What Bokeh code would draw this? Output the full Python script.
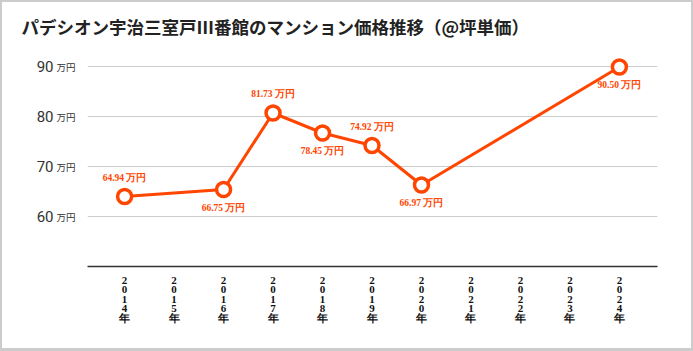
from bokeh.plotting import figure
from bokeh.models import FixedTicker, LinearAxis, Range1d, ColumnDataSource
from bokeh.core.properties import value
from bokeh.embed import file_html
from bokeh.resources import INLINE

# ---- data ----
title_text = "パデシオン宇治三室戸Ⅲ番館のマンション価格推移（@坪単価）"
years = [2014, 2016, 2017, 2018, 2019, 2020, 2024]
prices = [64.0, 65.4, 80.7, 76.7, 74.2, 66.3, 89.9]
price_labels = ["64.94 万円", "66.75 万円", "81.73 万円", "78.45 万円",
                "74.92 万円", "66.97 万円", "90.50 万円"]
label_above = [True, False, True, False, True, False, False]
axis_years = list(range(2014, 2025))
y_ticks = [60, 70, 80, 90]
unit = "万円"

ORANGE = "#ff4500"

p = figure(width=693, height=351, output_backend="svg", toolbar_location=None,
           x_range=Range1d(2013.25, 2024.77), y_range=Range1d(50, 95),
           min_border_left=85, min_border_right=38, min_border_top=39,
           min_border_bottom=87)
p.styles = {"box-sizing": "border-box",
            "border-left": "2px solid #cccccc", "border-top": "2px solid #cccccc",
            "border-right": "2px solid #cccccc", "border-bottom": "3px solid #cccccc"}
p.outline_line_color = None
p.background_fill_color = "white"
p.border_fill_color = "white"

# title
p.title.text = title_text
p.title.text_font = "Noto Sans CJK JP"
p.title.text_font_size = "17.5px"
p.title.text_font_style = "bold"
p.title.text_color = "#222222"
p.title.align = "left"
p.title.offset = -66
p.title.standoff = 5

# x axis
xa = p.xaxis[0]
xa.ticker = FixedTicker(ticks=axis_years)
xa.major_label_overrides = {y: "\n".join(list(str(y)) + ["年"]) for y in axis_years}
xa.major_label_text_font = "Liberation Serif"
xa.major_label_text_font_style = "bold"
xa.major_label_text_font_size = "11px"
xa.major_label_text_line_height = 0.8
xa.major_label_text_color = "#111111"
xa.major_label_standoff = 1
xa.major_tick_line_color = None
xa.minor_tick_line_color = None
xa.axis_line_color = "#333333"
xa.axis_line_width = 1.5

# inner y axis (unit)
ya = p.yaxis[0]
ya.ticker = FixedTicker(ticks=y_ticks)
ya.major_label_overrides = {t: unit for t in y_ticks}
ya.major_label_text_font = "Noto Sans CJK JP"
ya.major_label_text_font_size = "9.5px"
ya.major_label_text_color = "#333333"
ya.major_label_standoff = 6
ya.axis_line_color = None
ya.major_tick_line_color = None
ya.minor_tick_line_color = None

# outer y axis (numbers)
ya2 = LinearAxis(ticker=FixedTicker(ticks=y_ticks))
ya2.major_label_overrides = {t: str(t) for t in y_ticks}
ya2.major_label_text_font = "Roboto"
ya2.major_label_text_font_size = "15px"
ya2.major_label_text_color = "#333333"
ya2.major_label_standoff = -6
ya2.axis_line_color = None
ya2.major_tick_line_color = None
ya2.minor_tick_line_color = None
p.add_layout(ya2, "left")

p.xgrid.grid_line_color = None
p.ygrid.ticker = FixedTicker(ticks=y_ticks)
p.ygrid.grid_line_color = "#cccccc"
p.ygrid.grid_line_width = 1

src = ColumnDataSource(dict(
    x=years, y=prices, label=price_labels,
    off=[-19 if a else 18 for a in label_above],
))

p.line("x", "y", source=src, line_color=ORANGE, line_width=3)
p.scatter("x", "y", source=src, size=14, fill_color="white", line_color=ORANGE,
          line_width=3.5)
p.text("x", "y", text="label", source=src, y_offset="off",
       text_align="center", text_baseline="middle",
       text_font=value("Liberation Serif"), text_font_style="bold",
       text_font_size="9.5px", text_color=ORANGE)

open("out.html", "w").write(file_html(p, INLINE))
